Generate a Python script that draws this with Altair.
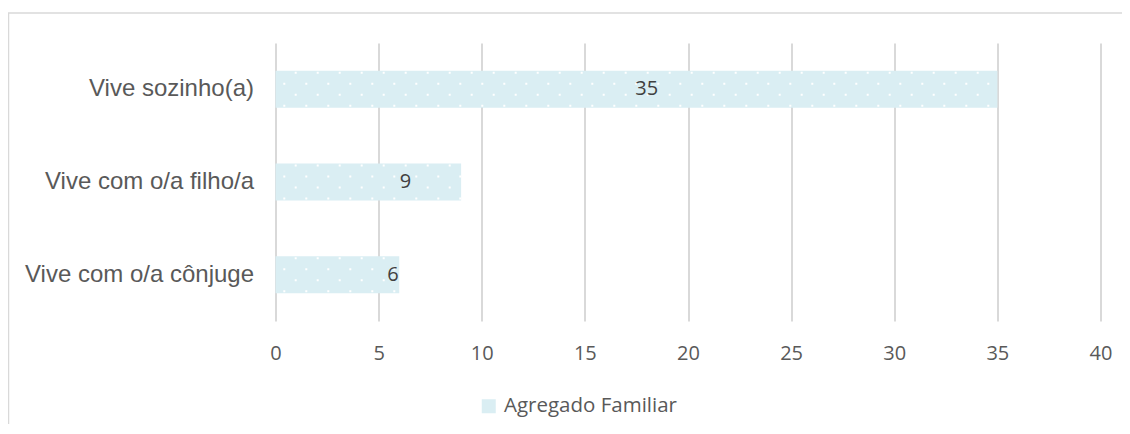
import altair as alt
import pandas as pd

categories = ["Vive sozinho(a)", "Vive com o/a filho/a", "Vive com o/a cônjuge"]
values = [35, 9, 6]
label_x = [18, 6.3, 5.7]
series = ["Agregado Familiar"] * 3
x_ticks = [0, 5, 10, 15, 20, 25, 30, 35, 40]

df = pd.DataFrame({"cat": categories, "val": values, "lx": label_x, "series": series})

BAR = "#DAEEF3"
GRID = "#d9d9d9"

ysc = alt.Scale(domain=categories, paddingInner=0.6, paddingOuter=0.3)
xsc = alt.Scale(domain=[0, 40], nice=False, zero=True)

base = alt.Chart(df)

frame = alt.Chart(pd.DataFrame({"a": [0]})).mark_rect(
    fill="white", fillOpacity=0, stroke=GRID, strokeWidth=1.5
).encode(
    x=alt.value(-267), x2=alt.value(900), y=alt.value(-30), y2=alt.value(420)
)

bars = base.mark_bar().encode(
    y=alt.Y("cat:N", scale=ysc, sort=None,
            axis=alt.Axis(title=None, ticks=False, domain=False, labelFont="Liberation Sans",
                          labelFontSize=24, labelColor="#595959", labelPadding=22,
                          labelLimit=400)),
    x=alt.X("val:Q", scale=xsc,
            axis=alt.Axis(title=None, values=x_ticks, grid=True, gridColor=GRID, gridWidth=2,
                          ticks=False, domain=False, labelFont="Open Sans", labelFlush=False,
                          labelFontSize=20, labelColor="#595959", labelPadding=22)),
    color=alt.Color("series:N", scale=alt.Scale(domain=["Agregado Familiar"], range=[BAR]),
                    legend=alt.Legend(title=None, orient="none", legendX=203, legendY=353,
                                      symbolType="square", symbolSize=196, symbolStrokeWidth=0,
                                      labelFont="Open Sans", labelFontSize=20.5, labelLimit=400,
                                      labelColor="#595959", labelOffset=5, padding=0)),
)

dot_layers = []
for yoff, dash_off in [(-16.5, 2.8), (-5.5, 14.2), (5.5, 2.8), (16.5, 14.2)]:
    dot_layers.append(
        base.transform_calculate(z="0").mark_rule(
            color="white", strokeWidth=2, strokeDash=[2, 20],
            strokeDashOffset=dash_off, yOffset=yoff, strokeCap="butt").encode(
            y=alt.Y("cat:N", scale=ysc, sort=None),
            x=alt.X("z:Q", scale=xsc),
            x2=alt.X2("val"),
        )
    )

labels = base.mark_text(font="Open Sans", fontSize=20, color="#404040",
                        align="center", baseline="middle").encode(
    y=alt.Y("cat:N", scale=ysc, sort=None),
    x=alt.X("lx:Q", scale=xsc),
    text=alt.Text("val:Q"),
)

chart = alt.layer(frame, bars, *dot_layers, labels).properties(
    width=825, height=278,
    autosize=alt.AutoSizeParams(type="none"),
    padding={"left": 267.5, "top": 35, "right": 21, "bottom": 103},
    background="white",
).configure_view(stroke=None)

chart.save("out.html", embed_options={"renderer": "svg", "actions": False})
